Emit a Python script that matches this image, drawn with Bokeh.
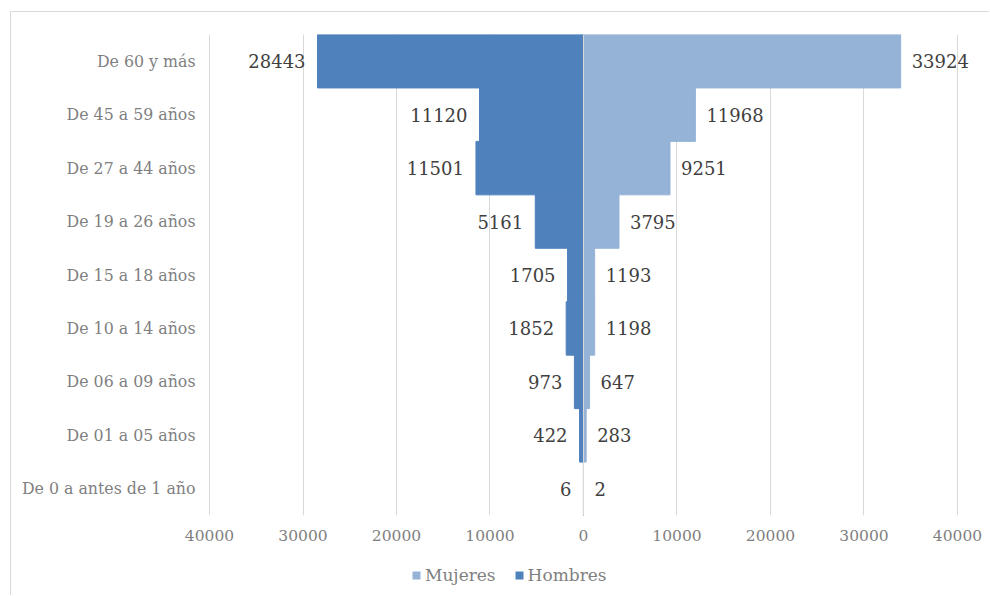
from bokeh.plotting import figure
from bokeh.layouts import column
from bokeh.models import ColumnDataSource, FixedTicker, Legend, LegendItem, Span, LabelSet
from bokeh.core.properties import value
from bokeh.embed import file_html
from bokeh.resources import INLINE

categories = ["De 0 a antes de 1 año", "De 01 a 05 años", "De 06 a 09 años",
              "De 10 a 14 años", "De 15 a 18 años", "De 19 a 26 años",
              "De 27 a 44 años", "De 45 a 59 años", "De 60 y más"]
hombres = [6, 422, 973, 1852, 1705, 5161, 11501, 11120, 28443]
mujeres = [2, 283, 647, 1198, 1193, 3795, 9251, 11968, 33924]
tick_values = [-40000, -30000, -20000, -10000, 0, 10000, 20000, 30000, 40000]
tick_labels = ["40000", "30000", "20000", "10000", "0", "10000", "20000", "30000", "40000"]
series_names = ["Mujeres", "Hombres"]

FONT = "DejaVu Serif"
C_H = "#4f81bd"
C_M = "#95b3d7"

src = ColumnDataSource(dict(
    cat=categories,
    h_left=[-v for v in hombres],
    h_lab=[str(v) for v in hombres],
    m_right=mujeres,
    m_lab=[str(v) for v in mujeres],
    zero=[0] * len(categories),
))

# frame runs a little past the 40000 gridline so the outer labels are not clipped
p = figure(width=979, height=544, y_range=categories, x_range=(-40107, 42995),
           output_backend="svg", toolbar_location=None,
           min_border_left=197, min_border_right=5, min_border_top=22, min_border_bottom=41)
p.outline_line_color = None
p.y_range.range_padding = 0

rh = p.hbar(y="cat", left="h_left", right="zero", height=1.0, color=C_H, source=src)
rm = p.hbar(y="cat", left="zero", right="m_right", height=1.0, color=C_M, source=src)

p.add_layout(Span(location=0, dimension="height", line_color="#d9d9d9", line_width=1, level="overlay"))

p.add_layout(LabelSet(x="h_left", y="cat", text="h_lab", source=src, x_offset=-12,
                      text_align="right", text_baseline="middle",
                      text_font=value(FONT), text_font_size=value("18px"), text_color="#404040"))
p.add_layout(LabelSet(x="m_right", y="cat", text="m_lab", source=src, x_offset=11,
                      text_align="left", text_baseline="middle",
                      text_font=value(FONT), text_font_size=value("18px"), text_color="#404040"))

p.xaxis.ticker = FixedTicker(ticks=tick_values)
p.xaxis.major_label_overrides = {t: l for t, l in zip(tick_values, tick_labels)}
for ax in (p.xaxis, p.yaxis):
    ax.axis_line_color = None
    ax.major_tick_line_color = None
    ax.minor_tick_line_color = None
    ax.major_label_text_font = FONT
    ax.major_label_text_color = "#7f7f7f"
p.xaxis.major_label_text_font_size = "15.5px"
p.yaxis.major_label_text_font_size = "15.8px"
p.xaxis.major_label_standoff = 8
p.yaxis.major_label_standoff = 7

p.ygrid.grid_line_color = None
p.xgrid.ticker = FixedTicker(ticks=tick_values)
p.xgrid.grid_line_color = "#d9d9d9"

# legend strip below the chart
lf = figure(width=979, height=40, output_backend="svg", toolbar_location=None,
            x_axis_type=None, y_axis_type=None, x_range=(0, 1), y_range=(0, 1),
            min_border_left=0, min_border_right=0, min_border_top=0, min_border_bottom=0)
lf.outline_line_color = None
lf.xgrid.grid_line_color = None
lf.ygrid.grid_line_color = None
offscreen = ColumnDataSource(dict(y=[-5], l=[-6], r=[-5]))
lm = lf.hbar(y="y", left="l", right="r", height=1, fill_color=C_M, line_color=None, source=offscreen)
lh = lf.hbar(y="y", left="l", right="r", height=1, fill_color=C_H, line_color=None, source=offscreen)

legend = Legend(items=[LegendItem(label=series_names[0], renderers=[lm]),
                       LegendItem(label=series_names[1], renderers=[lh])],
                orientation="horizontal", location=(203, 11),
                glyph_width=10, glyph_height=10, label_standoff=4, spacing=18,
                margin=0, padding=0,
                label_text_font=FONT, label_text_font_size="17px", label_text_color="#7f7f7f",
                border_line_color=None, background_fill_alpha=0)
lf.add_layout(legend, "center")

layout = column(p, lf, spacing=0)
layout.styles = {"margin-left": "11px", "margin-top": "12px", "box-shadow": "-1px -1px 0 #d9d9d9"}

open("out.html", "w").write(file_html(layout, INLINE))
